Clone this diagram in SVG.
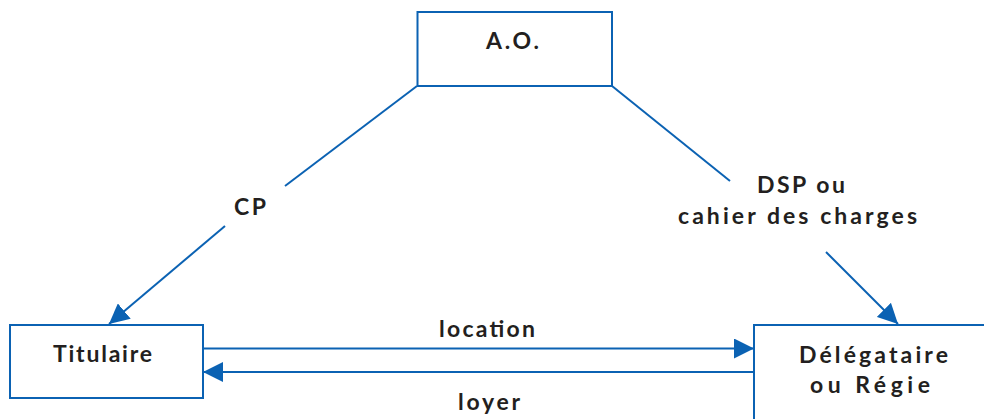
<svg xmlns="http://www.w3.org/2000/svg" width="984" height="419" viewBox="0 0 984 419">
<style>
.box{fill:#fff;stroke:#0b62b3;stroke-width:2}
.ln{stroke:#0b62b3;stroke-width:2;fill:none}
.t{font-family:Lato,"Liberation Sans",sans-serif;font-weight:700;font-size:23px;fill:#231f20;text-anchor:middle}
</style>
<defs>
<marker id="ah" viewBox="0 0 20 20" refX="20" refY="10" markerWidth="20" markerHeight="20" markerUnits="userSpaceOnUse" orient="auto">
<path d="M0,0 L20,10 L0,20 Z" fill="#0b62b3"/>
</marker>
</defs>
<rect width="984" height="419" fill="#fff"/>
<g id="connectors">
<line class="ln" x1="417" y1="86" x2="285" y2="186"/>
<line class="ln" x1="225" y1="226" x2="109" y2="324" marker-end="url(#ah)"/>
<line class="ln" x1="612" y1="86" x2="730" y2="181"/>
<line class="ln" x1="826" y1="252" x2="898" y2="324" marker-end="url(#ah)"/>
<line class="ln" x1="203" y1="348.5" x2="754" y2="348.5" marker-end="url(#ah)"/>
<line class="ln" x1="754" y1="372" x2="203" y2="372" marker-end="url(#ah)"/>
<text class="t" x="250" y="215" textLength="32">CP</text>
<text class="t" x="801" y="193" textLength="88" lengthAdjust="spacing">DSP ou</text>
<text class="t" x="797.5" y="224" textLength="239" lengthAdjust="spacing">cahier des charges</text>
<text class="t" x="487" y="337" textLength="96" lengthAdjust="spacing">location</text>
<text class="t" x="489" y="410" textLength="62" lengthAdjust="spacing">loyer</text>
</g>
<g id="ao">
<rect class="box" x="417.5" y="12" width="194.5" height="74"/>
<text class="t" x="512.5" y="49" textLength="53">A.O.</text>
</g>
<g id="titulaire">
<rect class="box" x="10" y="325" width="193" height="73"/>
<text class="t" x="102.5" y="362" textLength="99" lengthAdjust="spacing">Titulaire</text>
</g>
<g id="delegataire">
<rect class="box" x="754" y="325" width="240" height="110"/>
<text class="t" x="873.5" y="363" textLength="149" lengthAdjust="spacing">Délégataire</text>
<text class="t" x="870" y="393" textLength="120" lengthAdjust="spacing">ou Régie</text>
</g>
</svg>
